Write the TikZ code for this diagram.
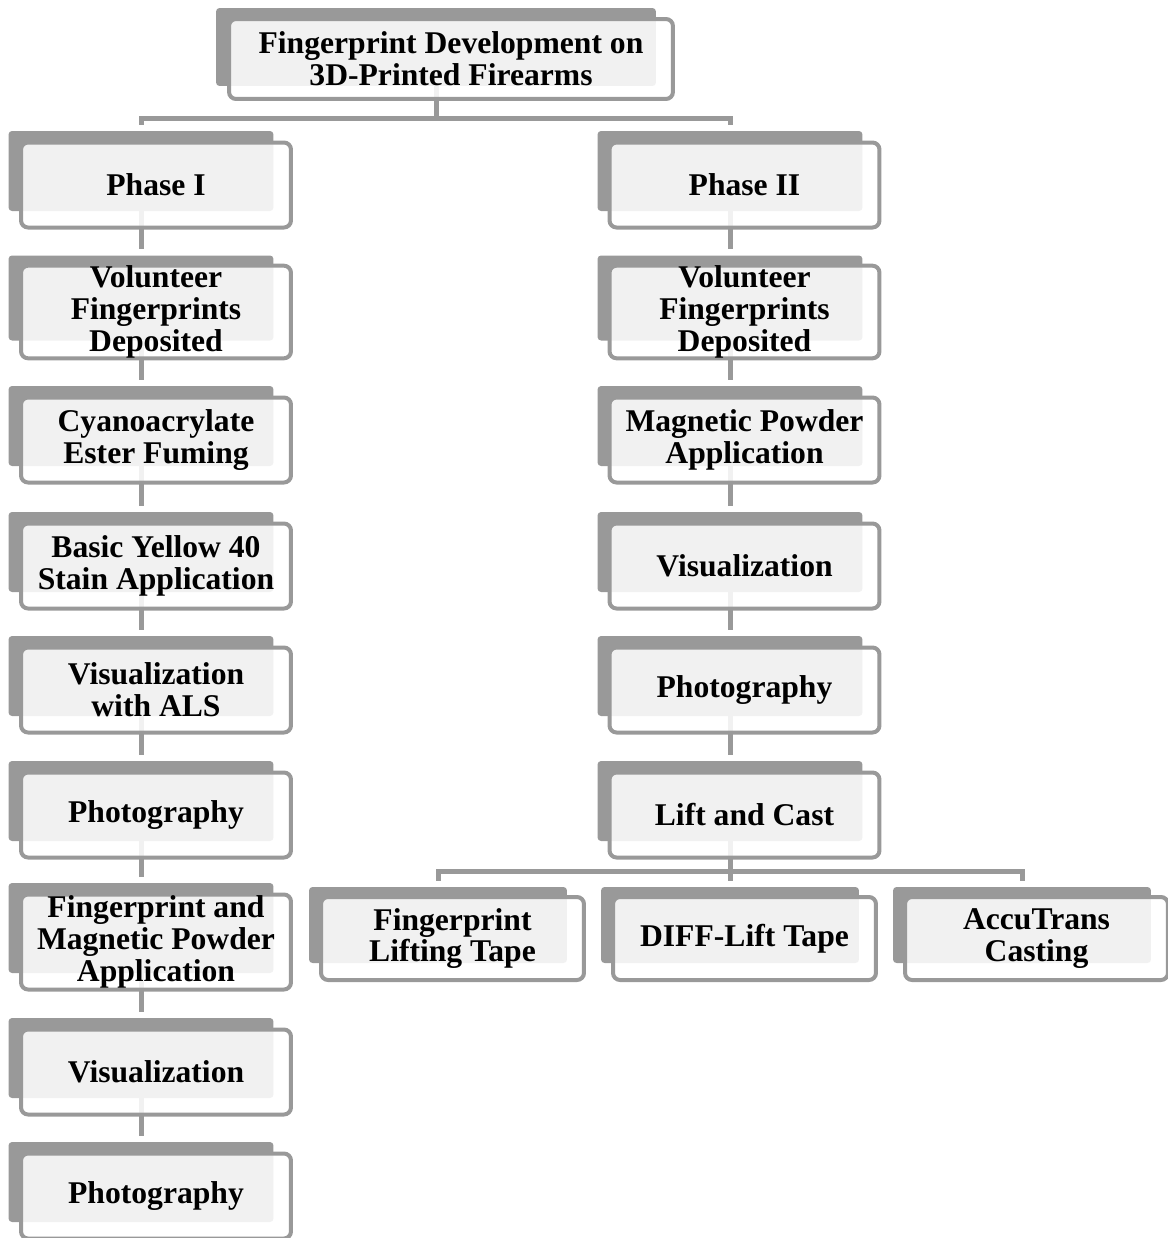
\documentclass[tikz,border=0pt]{standalone}
\usepackage{fontspec}
\setmainfont{Liberation Serif}
\usetikzlibrary{positioning,backgrounds}
\definecolor{boxgray}{RGB}{153,153,153}

\begin{document}
\begin{tikzpicture}[
    x=0.02cm, y=-0.02cm,
    backbox/.style={rectangle, rounded corners=2pt, fill=boxgray, minimum width=5.3cm, minimum height=1.6cm},
    frontbox/.style={rectangle, rounded corners=4pt, draw=boxgray, line width=0.08cm, fill=white, fill opacity=0.87, text opacity=1, minimum width=5.4cm, minimum height=1.7cm, inner sep=0pt, align=center, font=\fontsize{18}{18.2}\selectfont\bfseries},
    link/.style={draw=boxgray, line width=0.1cm, shorten >=0.12cm}
]
    \useasboundingbox (0,0) rectangle (1168,1238);

    % Title
    \node[backbox, minimum width=8.8cm, minimum height=1.56cm] (tb) at (436,47) {};
    \node[frontbox, minimum width=8.88cm, minimum height=1.6cm] (tf) at (451,59) {Fingerprint Development on\\3D-Printed Firearms};

    % Phase I column
    \foreach \i/\y/\h/\t in {1/171/80/{Phase I}, 2/298/85/{Volunteer\\Fingerprints\\Deposited}, 3/426/80/{Cyanoacrylate\\Ester Fuming}, 4/552/80/{Basic Yellow 40\\Stain Application}, 5/676/80/{Visualization\\with ALS}, 6/801/80/{Photography}, 7/928/90/{Fingerprint and\\Magnetic Powder\\Application}, 8/1058/80/{Visualization}, 9/1182/80/{Photography}} {
        \node[backbox, minimum height=\h*0.02cm] (lb\i) at (141,\y) {};
        \node[frontbox, minimum height=(\h+5)*0.02cm] (lf\i) at (156,\y+14) {\t};
    }

    % Phase II column
    \foreach \i/\y/\h/\t in {1/171/80/{Phase II}, 2/298/85/{Volunteer\\Fingerprints\\Deposited}, 3/426/80/{Magnetic Powder\\Application}, 4/552/80/{Visualization}, 5/676/80/{Photography}, 6/801/80/{Lift and Cast}} {
        \node[backbox, minimum height=\h*0.02cm] (rb\i) at (730,\y) {};
        \node[frontbox, minimum height=(\h+5)*0.02cm] (rf\i) at (744.5,\y+14) {\t};
    }

    % Lift and cast options
    \foreach \i/\x/\t in {1/438/{Fingerprint\\Lifting Tape}, 2/730/{DIFF-Lift Tape}, 3/1022/{AccuTrans\\Casting}} {
        \node[backbox, minimum width=5.16cm, minimum height=1.52cm] (bb\i) at (\x,925) {};
        \node[frontbox, minimum width=5.26cm, minimum height=1.66cm] (bf\i) at (\x+14.5,938.5) {\t};
    }

    % Connectors
    \coordinate (topbar) at (436,118);
    \coordinate (lowbar) at (730,871);
    \begin{scope}[on background layer]
        \draw[link, shorten >=0pt] (tb) -- (topbar);
        \draw[link] (topbar) -| (lb1);
        \draw[link] (topbar) -| (rb1);
        \foreach \i [count=\j from 2] in {1,...,8}
            \draw[link] (lb\i) -- (lb\j);
        \foreach \i [count=\j from 2] in {1,...,5}
            \draw[link] (rb\i) -- (rb\j);
        \draw[link, shorten >=0pt] (rb6) -- (lowbar);
        \draw[link] (lowbar) -| (bb1);
        \draw[link] (lowbar) -- (bb2);
        \draw[link] (lowbar) -| (bb3);
    \end{scope}
\end{tikzpicture}
\end{document}
